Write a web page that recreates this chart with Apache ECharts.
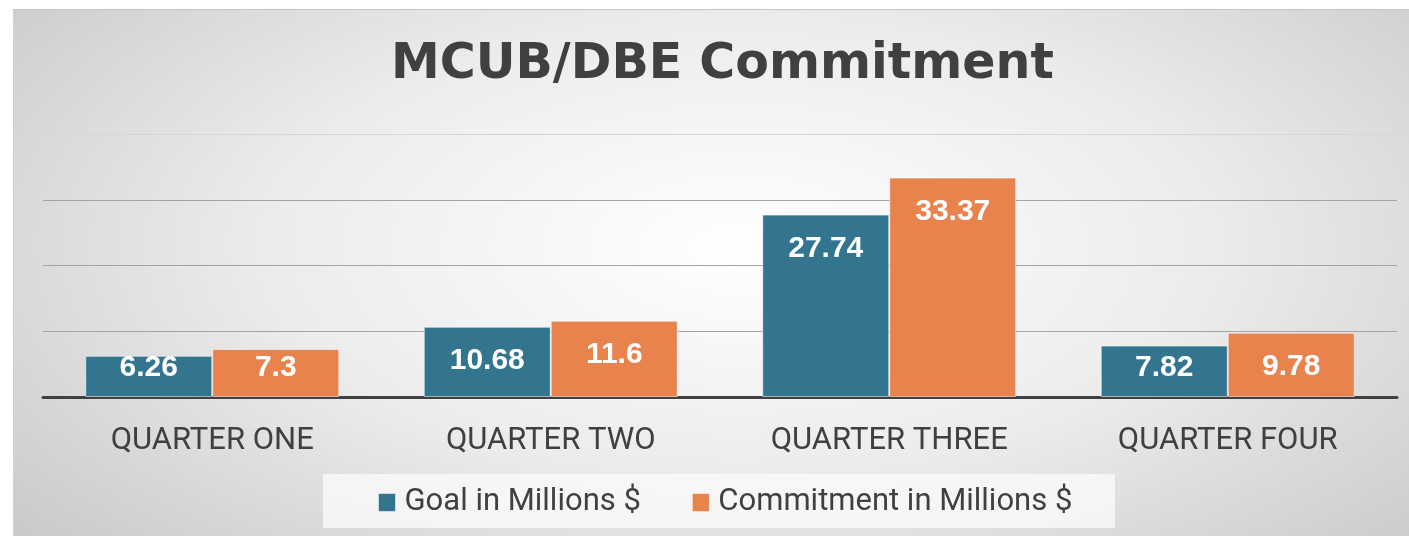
<!DOCTYPE html>
<html><head><meta charset="utf-8">
<script src="https://cdn.jsdelivr.net/npm/echarts@6/dist/echarts.min.js"></script>
<style>
html,body{margin:0;padding:0;background:#fff;}
#frame{position:absolute;left:13px;top:9px;width:1396px;height:527px;border-top:1px solid #c4c4c4;border-left:1px solid #d0d0d0;box-sizing:border-box;
background:radial-gradient(ellipse 75% 95% at 52% 45%, #ffffff 0%, #ececec 45%, #c2c2c2 100%);}
#legbox{position:absolute;left:323px;top:474px;width:792px;height:54px;background:rgba(250,250,250,0.8);}
#chart{position:absolute;left:0;top:0;width:1409px;height:536px;}
</style></head>
<body>
<div id="frame"></div>
<div id="legbox"></div>
<div id="chart"></div>
<script>
const titleText = 'MCUB/DBE Commitment';
const categories = ['QUARTER ONE', 'QUARTER TWO', 'QUARTER THREE', 'QUARTER FOUR'];
const seriesNames = ['Goal in Millions $', 'Commitment in Millions $'];
const goalValues = [6.26, 10.68, 27.74, 7.82];
const commitmentValues = [7.3, 11.6, 33.37, 9.78];
const yTicks = [0, 10, 20, 30, 40];

function items(vals) {
  return vals.map(v => ({
    value: v,
    label: { position: v < 9.45 ? 'insideBottom' : 'insideTop', distance: v < 9.45 ? 14 : 19 }
  }));
}
const labelStyle = { show: true, color: '#ffffff', fontFamily: 'Liberation Sans', fontWeight: 'bold', fontSize: 30 };

const chart = echarts.init(document.getElementById('chart'), null, { renderer: 'canvas' });
chart.setOption({
  backgroundColor: 'transparent',
  title: { text: titleText, left: 386, top: 36,
    textStyle: { fontFamily: 'DejaVu Sans', fontWeight: 'bold', fontSize: 49, color: '#404040' } },
  legend: { top: 487, left: 378, padding: 0, itemWidth: 17, itemHeight: 18, itemGap: 51,
    icon: 'rect',
    itemStyle: { borderColor: 'rgba(255,255,255,0.5)', borderWidth: 1 },
    textStyle: { fontFamily: 'Roboto', fontSize: 31, color: '#404040', padding: [0, 0, 0, 4] },
    data: seriesNames },
  grid: { left: 43, right: 12, top: 134, bottom: 139, containLabel: false },
  xAxis: { type: 'category', data: categories,
    axisLine: { show: true, lineStyle: { color: '#404040', width: 3 } },
    axisTick: { show: false },
    axisLabel: { margin: 29, fontFamily: 'Roboto', fontSize: 31, color: '#404040' } },
  yAxis: { type: 'value', min: yTicks[0], max: yTicks[yTicks.length - 1], interval: 10,
    axisLabel: { show: false }, axisLine: { show: false }, axisTick: { show: false },
    splitLine: { lineStyle: { color: ['#999999', '#a3a3a3', '#a3a3a3', '#a3a3a3', '#d6d6d6'], width: 1 } } },
  series: [
    { name: seriesNames[0], type: 'bar', data: items(goalValues), barWidth: 127, barGap: '0%',
      itemStyle: { color: '#33748f', borderColor: 'rgba(255,255,255,0.55)', borderWidth: 1 },
      label: labelStyle },
    { name: seriesNames[1], type: 'bar', data: items(commitmentValues), barWidth: 127, barGap: '0%',
      itemStyle: { color: '#e8834e', borderColor: 'rgba(255,255,255,0.55)', borderWidth: 1 },
      label: labelStyle }
  ]
});
</script>
</body></html>
